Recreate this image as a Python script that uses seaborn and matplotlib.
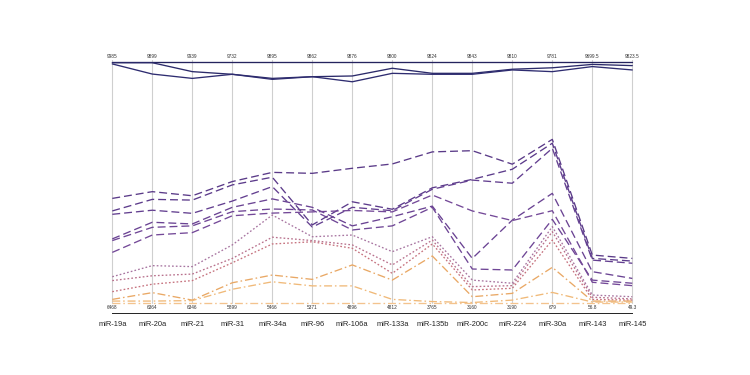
import matplotlib
matplotlib.use("Agg")
import matplotlib.pyplot as plt
import seaborn as sns
import pandas as pd

# axis names and the per-axis range labels
mirnas = ["miR-19a", "miR-20a", "miR-21", "miR-31", "miR-34a", "miR-96", "miR-106a",
          "miR-133a", "miR-135b", "miR-200c", "miR-224", "miR-30a", "miR-143", "miR-145"]
top_vals = ["9985", "9899", "9939", "9732", "9895", "9862", "9876",
            "9800", "9824", "9843", "9810", "9781", "9699.5", "9823.5"]
bottom_vals = ["6468", "6364", "6346", "5899", "5466", "5371", "4896",
               "4812", "3765", "3160", "3190", "679", "56.8", "49.3"]

# position of each line on every axis, in % of that axis' range
s0 = [100] * 14
s1 = [99.7, 99.7, 96.0, 94.9, 93.2, 93.9, 94.2, 97.4, 95.3, 95.3, 97.0, 97.6, 99.0, 98.5]
s2 = [99.2, 95.0, 93.2, 94.9, 92.8, 93.9, 91.8, 95.3, 94.9, 94.9, 96.7, 96.0, 98.1, 96.7]
d1 = [43.4, 46.2, 44.5, 50.4, 54.2, 53.8, 55.9, 57.7, 62.7, 63.2, 57.6, 67.9, 19.9, 18.5]
d2 = [38.2, 43.0, 42.7, 49.0, 52.2, 32.4, 42.0, 38.9, 47.8, 51.3, 55.5, 66.3, 18.5, 17.4]
d3 = [36.8, 38.5, 37.2, 42.3, 48.3, 31.5, 39.7, 38.3, 47.2, 51.0, 49.7, 64.2, 17.8, 16.5]
d4 = [26.6, 33.5, 32.8, 39.7, 43.2, 39.7, 32.0, 35.8, 40.2, 18.5, 34.4, 45.5, 13.0, 10.2]
d5 = [25.9, 31.4, 32.0, 37.9, 39.0, 38.6, 30.3, 32.0, 39.7, 14.1, 13.7, 34.7, 9.5, 8.2]
d6 = [21.0, 28.2, 29.2, 36.2, 37.3, 37.8, 38.4, 37.8, 44.8, 38.2, 34.2, 38.3, 8.6, 7.2]
p1 = [10.9, 15.5, 15.1, 24.1, 36.5, 27.5, 28.2, 21.3, 27.5, 9.5, 8.2, 31.7, 3.3, 2.6]
p2 = [9.3, 11.3, 12.0, 18.5, 27.3, 25.9, 24.1, 15.8, 26.1, 6.8, 7.2, 29.6, 2.4, 1.7]
p3 = [4.7, 7.8, 9.3, 16.7, 24.5, 25.4, 22.7, 12.3, 24.5, 5.4, 6.1, 26.1, 1.5, 1.2]
o1 = [1.5, 4.3, 1.2, 8.4, 11.6, 9.8, 15.8, 9.5, 19.5, 2.6, 4.0, 14.8, 0.8, 0.8]
o2 = [0.8, 0.8, 1.0, 5.7, 8.8, 7.1, 7.1, 1.5, 0.6, 0.2, 1.2, 4.4, 0.4, 0.4]
o0 = [0] * 14

series = {"s0": s0, "s1": s1, "s2": s2, "d1": d1, "d2": d2, "d3": d3, "d4": d4,
          "d5": d5, "d6": d6, "p1": p1, "p2": p2, "p3": p3, "o1": o1, "o2": o2, "o0": o0}
groups = {"s": "solid", "d": "dashed", "p": "dotted", "o": "dashdot"}
colors = {"s0": "#25235e", "s1": "#2b2a6a", "s2": "#2e2c70",
          "d1": "#5a3a88", "d2": "#5c3b8b", "d3": "#633f90", "d4": "#6a4393", "d5": "#6f4696", "d6": "#744998",
          "p1": "#a774a0", "p2": "#b8708c", "p3": "#c6727e",
          "o1": "#e9a865", "o2": "#f0b978", "o0": "#f3c38e"}

rows = []
for name, vals in series.items():
    for i, v in enumerate(vals):
        rows.append({"axis": i, "scaled": v, "line": name, "group": groups[name[0]]})
df = pd.DataFrame(rows)

sns.set_style("white")
plt.rcParams["font.family"] = ["Liberation Sans", "DejaVu Sans"]

fig = plt.figure(figsize=(7.5, 3.75), dpi=100)
ax = fig.add_axes([112.3 / 750, 1 - 303 / 375, 520 / 750, 241 / 375])

# grey vertical axes
for i in range(len(mirnas)):
    ax.plot([i, i], [0, 101], color="#cfcfcf", lw=0.8, zorder=0, clip_on=False)

sns.lineplot(data=df, x="axis", y="scaled", hue="line", style="group",
             palette=colors, dashes={"solid": "", "dashed": (6, 3), "dotted": (1.3, 1.6),
                                     "dashdot": (6, 2.2, 1.2, 2.2)},
             estimator=None, sort=False, legend=False, lw=0.95, ax=ax)
for ln in ax.lines:
    ln.set_clip_on(False)

for i in range(len(mirnas)):
    ax.text(i, 101.3, top_vals[i], ha="center", va="bottom", fontsize=3.4, color="#333333")
    ax.text(i, -0.8, bottom_vals[i], ha="center", va="top", fontsize=3.4, color="#333333")

for side in ["top", "left", "right"]:
    ax.spines[side].set_visible(False)
ax.spines["bottom"].set_position(("outward", 7.2))
ax.spines["bottom"].set_linewidth(0.7)
ax.spines["bottom"].set_color("#222222")

ax.set_xlim(0, 13)
ax.set_ylim(0, 100)
ax.set_xticks(range(len(mirnas)))
ax.set_xticklabels(mirnas)
ax.set_yticks([])
ax.set_xlabel("")
ax.set_ylabel("")
ax.tick_params(axis="x", direction="out", length=3.2, width=0.7, pad=2.5,
               colors="#222222", labelsize=5.4)

fig.savefig("out.png", dpi=100, facecolor="white")
